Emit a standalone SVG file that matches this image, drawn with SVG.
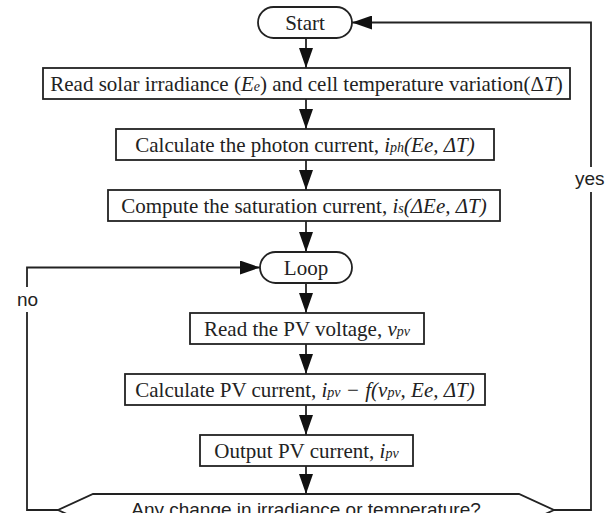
<svg xmlns="http://www.w3.org/2000/svg" width="611" height="513" viewBox="0 0 611 513">
<defs>
<marker id="ah" markerUnits="userSpaceOnUse" markerWidth="20" markerHeight="14" refX="20" refY="7" orient="auto" viewBox="0 0 20 14">
<path d="M0,0 L20,7 L0,14 z" fill="#111"/>
</marker>
<style>
.box{fill:#fff;stroke:#222;stroke-width:1.8}
.t{font-family:"Liberation Serif","Times New Roman",serif;font-size:21px;fill:#222;text-anchor:middle}
.i{font-style:italic}
.s{font-size:14px}
.lbl{font-family:"Liberation Sans",Arial,sans-serif;font-size:19px;fill:#222}
.c{fill:none;stroke:#222;stroke-width:1.8}
</style>
</defs>
<rect width="611" height="513" fill="#fff"/>
<g id="connectors">
<path class="c" d="M306,38 V68" marker-end="url(#ah)"/>
<path class="c" d="M306,99 V129" marker-end="url(#ah)"/>
<path class="c" d="M306,160 V190" marker-end="url(#ah)"/>
<path class="c" d="M306,221 V252" marker-end="url(#ah)"/>
<path class="c" d="M306,283 V313" marker-end="url(#ah)"/>
<path class="c" d="M306,344 V374" marker-end="url(#ah)"/>
<path class="c" d="M306,405 V435" marker-end="url(#ah)"/>
<path class="c" d="M306,466 V494" marker-end="url(#ah)"/>
<path class="c" d="M554,510 H591 V192"/>
<path class="c" d="M591,167 V22.5 H352" marker-end="url(#ah)"/>
<path class="c" d="M58,510 H27 V312"/>
<path class="c" d="M27,287 V267.5 H260" marker-end="url(#ah)"/>
<text class="lbl" x="575" y="185">yes</text>
<text class="lbl" x="17" y="306">no</text>
</g>
<g id="start">
<rect class="box" x="258" y="7" width="94" height="31" rx="15.5"/>
<text class="t" x="305" y="29.5">Start</text>
</g>
<g id="read-irradiance">
<rect class="box" x="43" y="68" width="527" height="31"/>
<text class="t" x="306.5" y="90.5">Read solar irradiance (<tspan class="i">E</tspan><tspan class="i s">e</tspan>) and cell temperature variation(Δ<tspan class="i">T</tspan>)</text>
</g>
<g id="photon-current">
<rect class="box" x="116" y="129" width="378" height="31"/>
<text class="t" x="305" y="151.5">Calculate the photon current,  <tspan class="i">i</tspan><tspan class="i s">ph</tspan><tspan class="i">(Ee, ΔT)</tspan></text>
</g>
<g id="saturation-current">
<rect class="box" x="108" y="190" width="392" height="31"/>
<text class="t" x="304" y="212.5">Compute the saturation current, <tspan class="i">i</tspan><tspan class="i s">s</tspan><tspan class="i">(ΔEe, ΔT)</tspan></text>
</g>
<g id="loop">
<rect class="box" x="260" y="252" width="92" height="31" rx="15.5"/>
<text class="t" x="306" y="274.5">Loop</text>
</g>
<g id="read-voltage">
<rect class="box" x="190" y="313" width="234" height="31"/>
<text class="t" x="307" y="335.5">Read the PV voltage, <tspan class="i">v</tspan><tspan class="i s">pv</tspan></text>
</g>
<g id="pv-current">
<rect class="box" x="125" y="374" width="360" height="31"/>
<text class="t" x="305" y="396.5">Calculate PV current, <tspan class="i">i</tspan><tspan class="i s">pv</tspan><tspan class="i"> − f(v</tspan><tspan class="i s">pv</tspan><tspan class="i">, Ee, ΔT)</tspan></text>
</g>
<g id="output-current">
<rect class="box" x="200" y="435" width="213" height="31"/>
<text class="t" x="306.5" y="457.5">Output PV current, <tspan class="i">i</tspan><tspan class="i s">pv</tspan></text>
</g>
<g id="decision">
<polygon class="box" points="93,494 519,494 554,510 519,526 93,526 58,510"/>
<text class="lbl" x="306" y="516" text-anchor="middle" font-size="20.5">Any change in irradiance or temperature?</text>
</g>
</svg>
